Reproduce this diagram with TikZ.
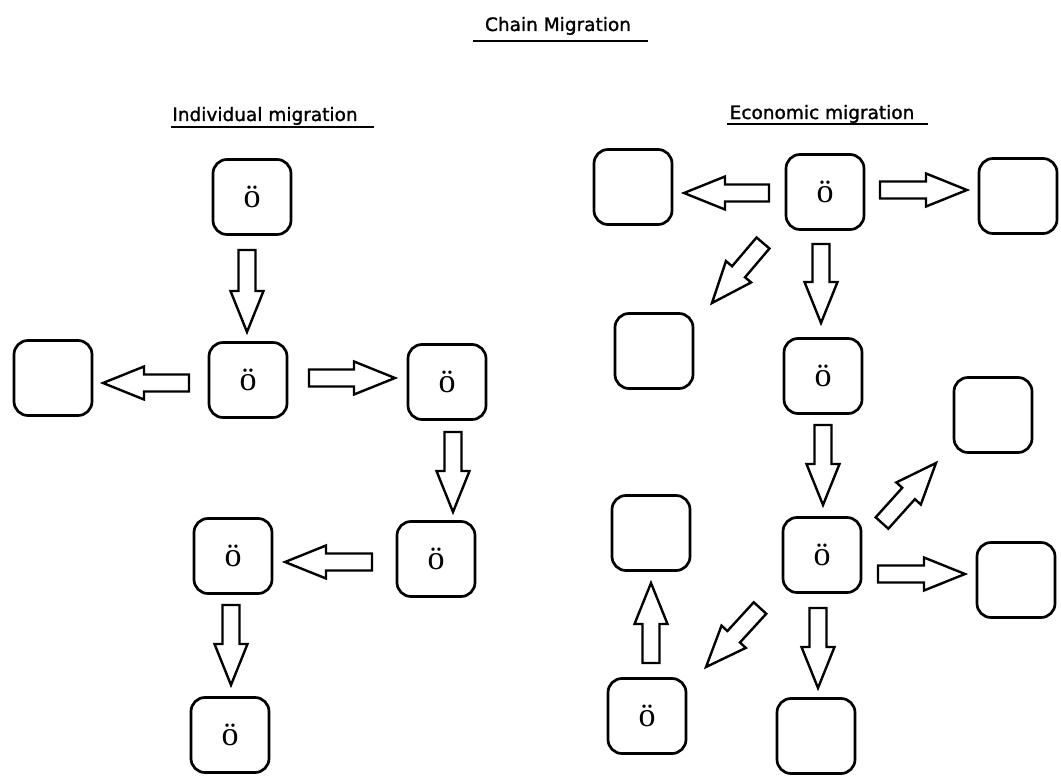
\documentclass[tikz,border=0pt]{standalone}
\usepackage{fontspec}
\setmainfont{DejaVu Sans}
\newfontfamily\ttlfont[FakeBold=1.3]{DejaVu Sans}
\newfontfamily\oefont{Liberation Serif}
\usetikzlibrary{calc}
\tikzset{
 box/.style={draw, line width=2.7pt, rounded corners=14pt, minimum width=78pt, minimum height=75pt, inner sep=0pt, font=\oefont\fontsize{34}{34}\selectfont},
 blockarr/.style={draw, line width=2.4pt, line join=miter, fill=white},
 ttl/.style={font=\ttlfont\fontsize{18.5}{20}\selectfont, anchor=base, inner sep=0pt},
 uline/.style={line width=2.8pt}
}
\newcommand\barrow[2]{%
 \coordinate (#1h) at ($(#2)!41pt!(#1)$);
 \draw[blockarr] ($(#1)!8.5pt!90:(#2)$) -- ($(#1h)!8.5pt!90:(#2)$) -- ($(#1h)!16.5pt!90:(#2)$) -- (#2) -- ($(#1h)!16.5pt!-90:(#2)$) -- ($(#1h)!8.5pt!-90:(#2)$) -- ($(#1)!8.5pt!-90:(#2)$) -- cycle;
}
\begin{document}
\begin{tikzpicture}[x=1pt,y=-1pt]
\fill[white] (0,0) rectangle (1061,776);
\useasboundingbox (0,0) rectangle (1061,776);

% titles
\node[ttl] (chain) at (558,31) {Chain Migration};
\coordinate (cu1) at (473,41); \coordinate (cu2) at (648,41);
\draw[uline] (cu1) -- (cu2);
\node[ttl] (indiv) at (265,121) {Individual migration};
\coordinate (iu1) at (171,127); \coordinate (iu2) at (374,127);
\draw[uline] (iu1) -- (iu2);
\node[ttl] (econ) at (822,119) {Economic migration};
\coordinate (eu1) at (727,124); \coordinate (eu2) at (928,124);
\draw[uline] (eu1) -- (eu2);

% left diagram
\node[box] (a1) at (252,197) {ö};
\node[box] (a2) at (248,380) {ö};
\node[box] (aL) at (53,378) {};
\node[box] (aR) at (447,382) {ö};
\node[box] (a3) at (436,559) {ö};
\node[box] (a4) at (233,556) {ö};
\node[box] (a5) at (230,735) {ö};

\coordinate (p1) at (247,250); \coordinate (q1) at (247,332);
\coordinate (p2) at (189,383); \coordinate (q2) at (103,383);
\coordinate (p3) at (309,378); \coordinate (q3) at (395,378);
\coordinate (p4) at (453,432); \coordinate (q4) at (453,512);
\coordinate (p5) at (372,562); \coordinate (q5) at (285,562);
\coordinate (p6) at (231,605); \coordinate (q6) at (231,685);
\barrow{p1}{q1}
\barrow{p2}{q2}
\barrow{p3}{q3}
\barrow{p4}{q4}
\barrow{p5}{q5}
\barrow{p6}{q6}

% right diagram
\node[box] (t) at (825,192) {ö};
\node[box] (tL) at (633,187) {};
\node[box] (tR) at (1018,196) {};
\node[box] (mL) at (654,351) {};
\node[box] (m) at (823,376) {ö};
\node[box] (mR) at (993,415) {};
\node[box] (c) at (822,555) {ö};
\node[box] (cR) at (1016,580) {};
\node[box] (cL) at (651,533) {};
\node[box] (bL) at (647,716) {ö};
\node[box] (b) at (816,736) {};

\coordinate (r1) at (769,193); \coordinate (s1) at (684,193);
\coordinate (r2) at (880,190); \coordinate (s2) at (967,190);
\coordinate (r3) at (763,243); \coordinate (s3) at (712,303);
\coordinate (r4) at (821,244); \coordinate (s4) at (821,323);
\coordinate (r5) at (823,425); \coordinate (s5) at (823,505);
\coordinate (r6) at (882,523); \coordinate (s6) at (936,463);
\coordinate (r7) at (878,574); \coordinate (s7) at (965,574);
\coordinate (r8) at (760,608); \coordinate (s8) at (706,667);
\coordinate (r9) at (818,608); \coordinate (s9) at (818,688);
\coordinate (r10) at (651,663); \coordinate (s10) at (651,583);
\barrow{r1}{s1}
\barrow{r2}{s2}
\barrow{r3}{s3}
\barrow{r4}{s4}
\barrow{r5}{s5}
\barrow{r6}{s6}
\barrow{r7}{s7}
\barrow{r8}{s8}
\barrow{r9}{s9}
\barrow{r10}{s10}
\end{tikzpicture}
\end{document}
